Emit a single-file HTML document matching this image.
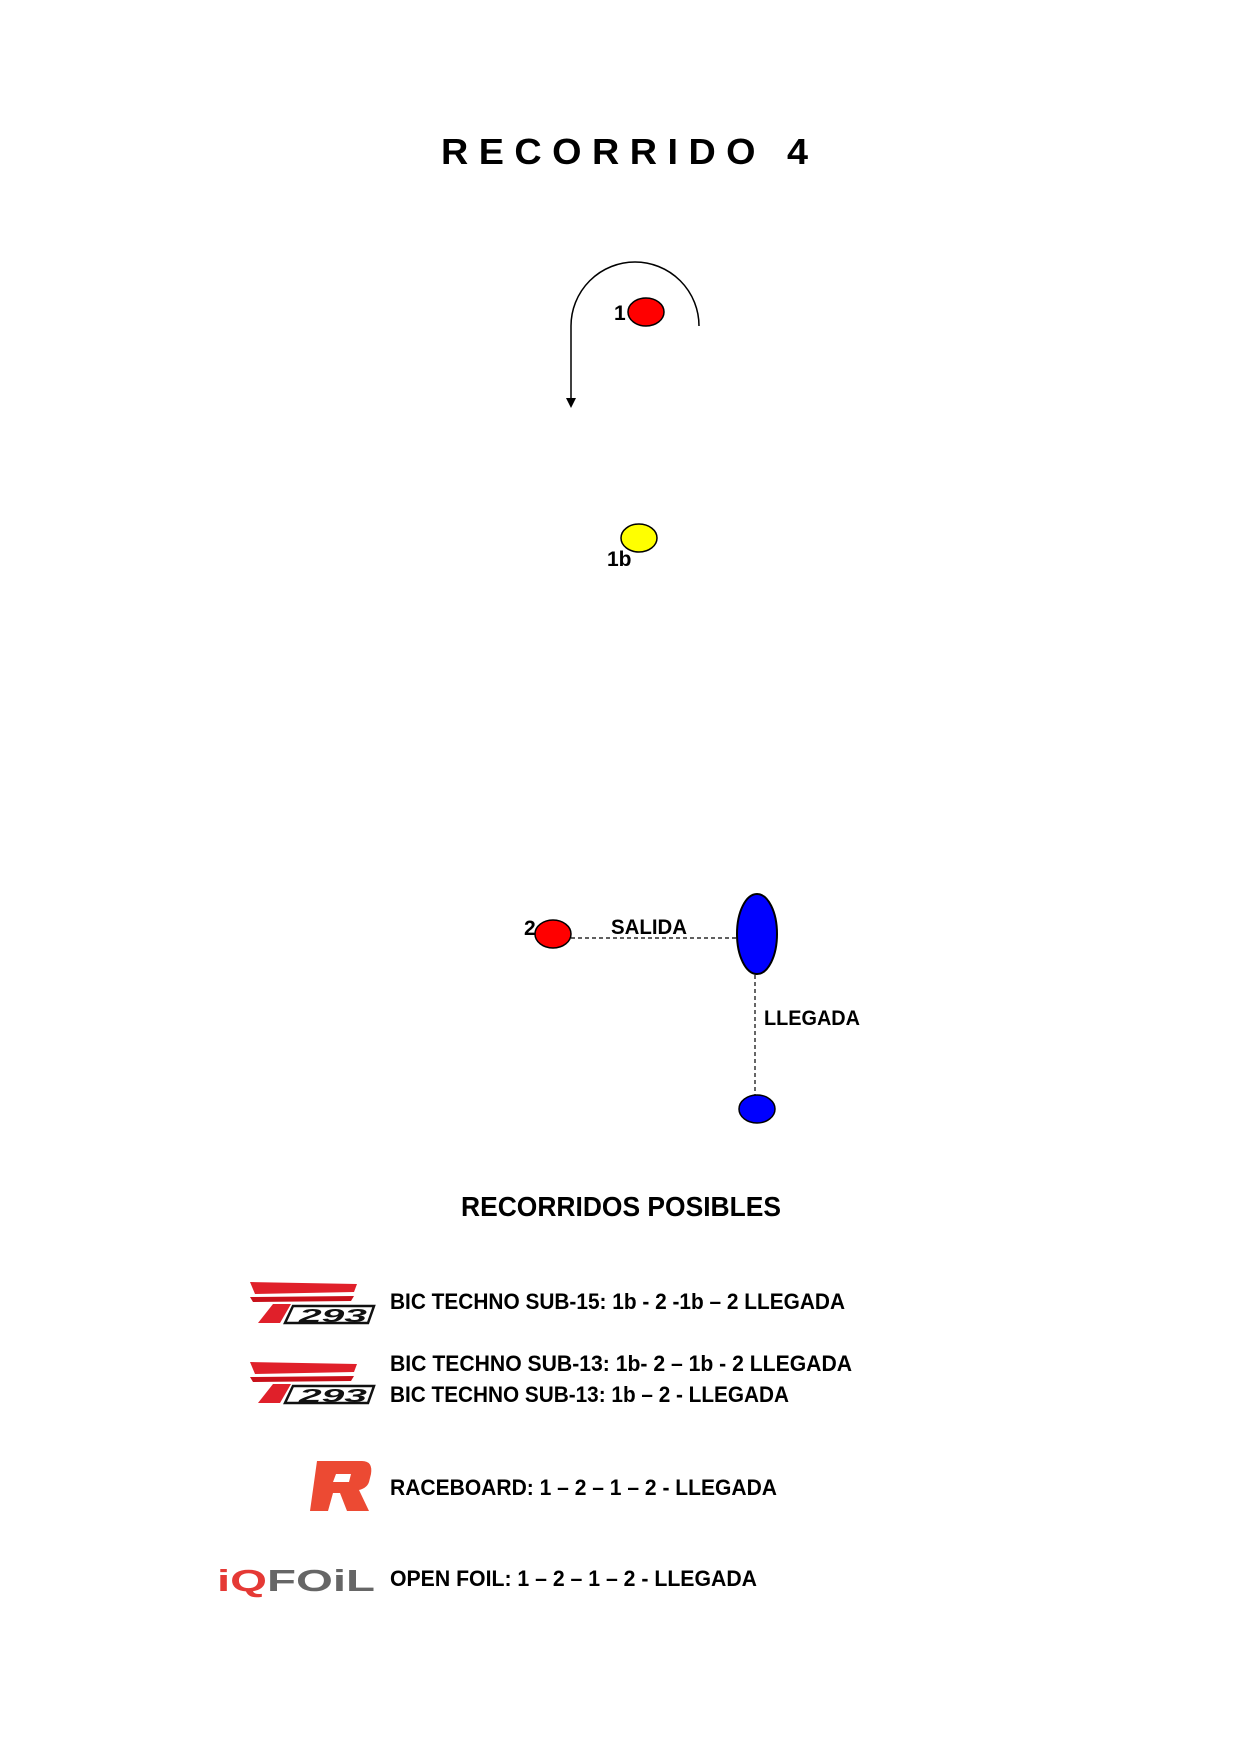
<!DOCTYPE html>
<html><head><meta charset="utf-8"><style>html,body{margin:0;padding:0;background:#fff}svg{display:block}</style></head>
<body>
<svg width="1241" height="1755" viewBox="0 0 1241 1755" xmlns="http://www.w3.org/2000/svg" font-family="Liberation Sans, sans-serif" font-weight="bold">
<text x="441" y="164" font-size="36" textLength="367" lengthAdjust="spacingAndGlyphs" style="white-space:pre" xml:space="preserve">R E C O R R I D O   4</text>
<path d="M571 326 A64 64 0 0 1 699 326" fill="none" stroke="#000" stroke-width="1.5"/>
<line x1="571" y1="326" x2="571" y2="401" stroke="#000" stroke-width="1.5"/>
<polygon points="566,398 576,398 571,408" fill="#000"/>
<ellipse cx="646" cy="312" rx="18" ry="14" fill="#f00" stroke="#000" stroke-width="1.5"/>
<text x="614" y="320" font-size="21">1</text>
<ellipse cx="639" cy="538" rx="18" ry="14" fill="#ff0" stroke="#000" stroke-width="1.5"/>
<text x="607" y="566" font-size="21">1b</text>
<line x1="571" y1="938" x2="737" y2="938" stroke="#000" stroke-width="1.2" stroke-dasharray="4,3"/>
<ellipse cx="553" cy="934" rx="18" ry="14" fill="#f00" stroke="#000" stroke-width="1.5"/>
<text x="524" y="935" font-size="21">2</text>
<text x="611" y="934" font-size="21" textLength="76" lengthAdjust="spacingAndGlyphs">SALIDA</text>
<ellipse cx="757" cy="934" rx="20" ry="40" fill="#00f" stroke="#000" stroke-width="2"/>
<line x1="755" y1="975" x2="755" y2="1096" stroke="#000" stroke-width="1.2" stroke-dasharray="4,3"/>
<text x="764" y="1025" font-size="21" textLength="96" lengthAdjust="spacingAndGlyphs">LLEGADA</text>
<ellipse cx="757" cy="1109" rx="18" ry="14" fill="#00f" stroke="#000" stroke-width="1.5"/>
<text x="461" y="1216" font-size="28" textLength="320" lengthAdjust="spacingAndGlyphs">RECORRIDOS POSIBLES</text>
<g font-size="22">
<text x="390" y="1309" textLength="455" lengthAdjust="spacingAndGlyphs">BIC TECHNO SUB-15: 1b - 2 -1b – 2 LLEGADA</text>
<text x="390" y="1371" textLength="462" lengthAdjust="spacingAndGlyphs">BIC TECHNO SUB-13: 1b- 2 – 1b  - 2 LLEGADA</text>
<text x="390" y="1402" textLength="399" lengthAdjust="spacingAndGlyphs">BIC TECHNO SUB-13: 1b – 2 - LLEGADA</text>
<text x="390" y="1495" textLength="387" lengthAdjust="spacingAndGlyphs">RACEBOARD: 1 – 2 – 1 –  2 - LLEGADA</text>
<text x="390" y="1586" textLength="367" lengthAdjust="spacingAndGlyphs">OPEN FOIL: 1 – 2 – 1 –  2 - LLEGADA</text>
</g>
<g id="t293" transform="translate(-3,-6)">
<polygon points="253,1288 360,1290 357,1298 258,1300" fill="#e0202a"/>
<polygon points="253,1303 357,1302 354,1307 256,1308" fill="#c8101a"/>
<polygon points="276,1310 294,1310 283,1329 261,1329" fill="#e0202a"/>
<polygon points="296,1312 377,1312 371,1329 288,1329" fill="#fff" stroke="#111" stroke-width="2.5"/>
<text x="302" y="1328" font-size="18" font-style="italic" fill="#111" textLength="68" lengthAdjust="spacingAndGlyphs">293</text>
</g>
<use href="#t293" transform="translate(0,80)"/>
<path d="M317 1461 L362 1461 Q373 1461 371 1474 L369 1482 Q367 1488 359 1490 L369 1511 L347 1511 L340 1493 L333 1493 L328 1511 L310 1511 Z M336 1474 L333 1482 L349 1482 L351 1474 Z" fill="#ec4a33" fill-rule="evenodd"/>
<text x="217" y="1591" font-size="31" font-weight="bold" textLength="158" lengthAdjust="spacingAndGlyphs"><tspan fill="#e53935">iQ</tspan><tspan fill="#666">FOiL</tspan></text>
</svg>
</body></html>
